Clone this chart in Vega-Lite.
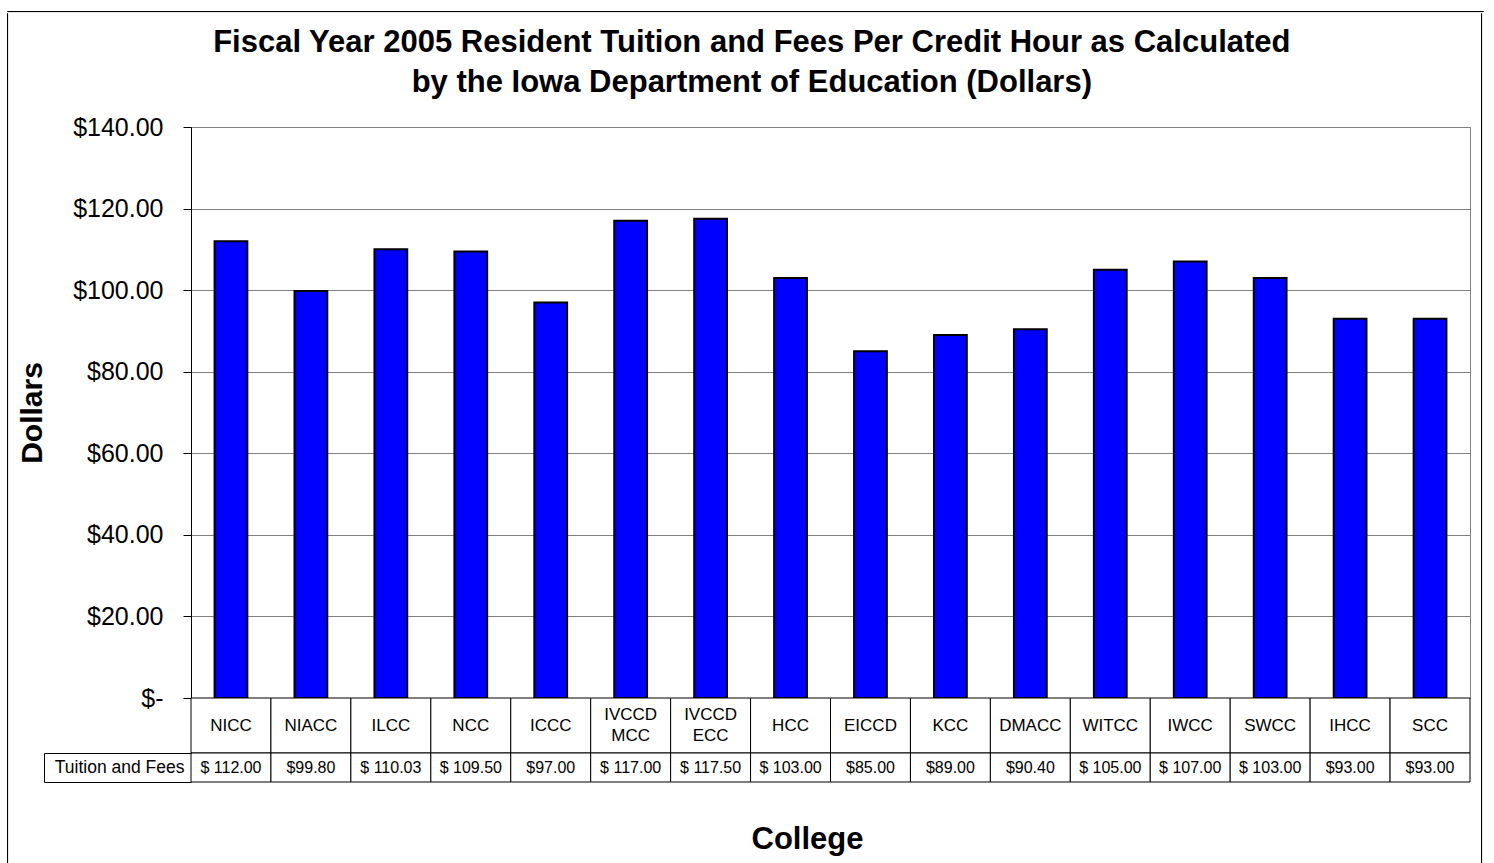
{
  "$schema": "https://vega.github.io/schema/vega-lite/v6.json",
  "background": "white",
  "padding": {"left": 6, "top": 10, "right": 0, "bottom": 0},
  "config": {
    "font": "Liberation Sans",
    "view": {"stroke": null},
    "axis": {"labelColor": "black", "titleColor": "black", "domainColor": "black", "tickColor": "black"},
    "title": {"color": "black"}
  },
  "datasets": {
    "none": [],
    "tuition": [
      {"college": "NICC", "fees": 112.00},
      {"college": "NIACC", "fees": 99.80},
      {"college": "ILCC", "fees": 110.03},
      {"college": "NCC", "fees": 109.50},
      {"college": "ICCC", "fees": 97.00},
      {"college": "IVCCD\nMCC", "fees": 117.00},
      {"college": "IVCCD\nECC", "fees": 117.50},
      {"college": "HCC", "fees": 103.00},
      {"college": "EICCD", "fees": 85.00},
      {"college": "KCC", "fees": 89.00},
      {"college": "DMACC", "fees": 90.40},
      {"college": "WITCC", "fees": 105.00},
      {"college": "IWCC", "fees": 107.00},
      {"college": "SWCC", "fees": 103.00},
      {"college": "IHCC", "fees": 93.00},
      {"college": "SCC", "fees": 93.00}
    ]
  },
  "spacing": 0,
  "vconcat": [
    {
      "data": {"name": "none"},
      "mark": "point",
      "width": 1476,
      "height": 0.1,
      "view": {"stroke": "black", "strokeWidth": 1}
    },
    {
      "spacing": 9,
      "hconcat": [
        {
          "data": {"name": "none"},
          "mark": "point",
          "width": 0.1,
          "height": 851,
          "view": {"stroke": "black", "strokeWidth": 1}
        },
        {
          "title": {
            "text": [
              "Fiscal Year 2005 Resident Tuition and Fees Per Credit Hour as Calculated",
              "by the Iowa Department of Education (Dollars)"
            ],
            "fontSize": 31,
            "fontWeight": "bold",
            "lineHeight": 40,
            "anchor": "middle",
            "frame": "bounds",
            "baseline": "top",
            "offset": -86,
            "dx": 8
          },
          "spacing": 0,
          "bounds": "flush",
          "resolve": {"scale": {"x": "independent", "y": "independent"}},
          "vconcat": [
            {
              "data": {"name": "none"},
              "mark": "point",
              "width": 1279,
              "height": 114
            },
            {
              "data": {"name": "tuition"},
              "width": 1279,
              "height": 571,
              "view": {"stroke": "#808080", "strokeWidth": 1},
              "mark": {"type": "bar", "width": {"band": 0.41}, "fill": "#0000ff", "stroke": "black", "strokeWidth": 2},
              "encoding": {
                "x": {
                  "field": "college",
                  "type": "nominal",
                  "sort": null,
                  "scale": {"paddingInner": 0, "paddingOuter": 0},
                  "axis": null
                },
                "y": {
                  "field": "fees",
                  "type": "quantitative",
                  "scale": {"domain": [0, 140]},
                  "axis": {
                    "values": [0, 20, 40, 60, 80, 100, 120, 140],
                    "labelExpr": "datum.value == 0 ? '$-\u00a0\u00a0\u00a0\u00a0' : '$' + format(datum.value, '.2f')",
                    "labelFontSize": 25,
                    "labelPadding": 20,
                    "tickSize": 8,
                    "grid": true,
                    "gridColor": "#808080",
                    "gridWidth": 1,
                    "title": "Dollars",
                    "titleFontSize": 30,
                    "titleFontWeight": "bold",
                    "titlePadding": 25
                  }
                }
              }
            },
            {
              "data": {"name": "tuition"},
              "width": 1279,
              "height": 55,
              "encoding": {
                "x": {
                  "field": "college",
                  "type": "nominal",
                  "sort": null,
                  "scale": {"paddingInner": 0, "paddingOuter": 0},
                  "axis": null
                }
              },
              "layer": [
                {"mark": {"type": "rect", "fill": "white", "stroke": "black", "strokeWidth": 1}},
                {
                  "mark": {
                    "type": "text",
                    "fontSize": 17,
                    "lineHeight": 21,
                    "lineBreak": "\n",
                    "color": "black",
                    "baseline": "middle",
                    "dy": {"expr": "indexof(datum.college, '\\n') >= 0 ? -10.5 : 0"}
                  },
                  "encoding": {"text": {"field": "college"}}
                }
              ]
            },
            {
              "data": {"name": "tuition"},
              "width": 1279,
              "height": 29,
              "encoding": {
                "x": {
                  "field": "college",
                  "type": "nominal",
                  "sort": null,
                  "scale": {"paddingInner": 0, "paddingOuter": 0},
                  "axis": {
                    "labels": false,
                    "ticks": false,
                    "domain": false,
                    "title": "College",
                    "titleFontSize": 31,
                    "titleFontWeight": "bold",
                    "titlePadding": 42,
                    "titleX": 616
                  }
                },
                "y": {
                  "datum": "Tuition and Fees",
                  "type": "nominal",
                  "scale": {"paddingInner": 0, "paddingOuter": 0},
                  "axis": {
                    "orient": "left",
                    "offset": 147,
                    "domain": true,
                    "ticks": true,
                    "tickSize": -147,
                    "tickBand": "extent",
                    "labelPadding": 7,
                    "labelFontSize": 17.5,
                    "labelAlign": "right",
                    "title": null
                  }
                }
              },
              "layer": [
                {"mark": {"type": "rect", "fill": "white", "stroke": "black", "strokeWidth": 1}},
                {
                  "mark": {
                    "type": "text",
                    "fontSize": 16,
                    "color": "black",
                    "baseline": "middle",
                    "text": {"expr": "(datum.fees >= 100 ? '$ ' : '$') + format(datum.fees, '.2f')"}
                  }
                }
              ]
            }
          ]
        },
        {
          "data": {"name": "none"},
          "mark": "point",
          "width": 0.1,
          "height": 851,
          "view": {"stroke": "black", "strokeWidth": 1}
        }
      ]
    }
  ]
}
